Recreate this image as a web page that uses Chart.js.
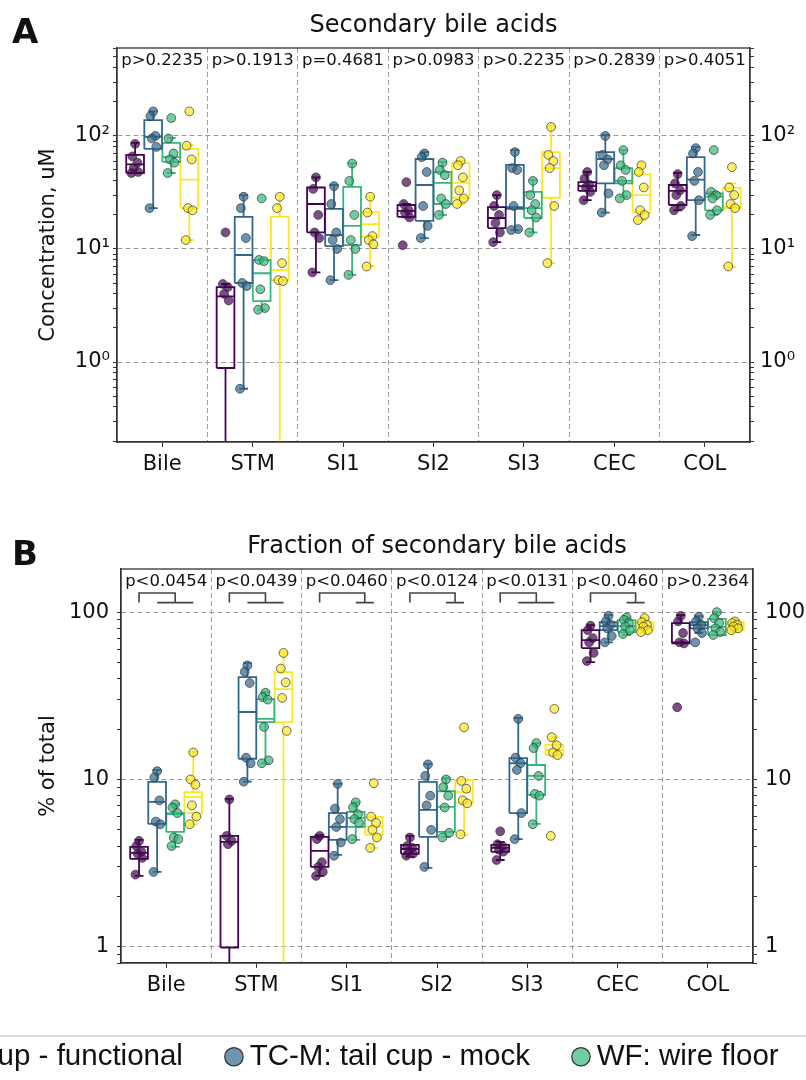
<!DOCTYPE html>
<html lang="en">
<head>
<meta charset="UTF-8">
<title>Secondary bile acids</title>
<style>
  html, body { margin: 0; padding: 0; background: #fff; overflow: hidden; }
  body { width: 806px; height: 1080px; position: relative; }
  .panel { position: absolute; }
  #boxA { left: 0; top: 0; width: 806px; height: 490px; }
  #boxB { left: 0; top: 490px; width: 806px; height: 521px; }
  #boxL { left: -345px; top: 992px; width: 1600px; height: 300px; }
</style>
</head>
<body>
<div class="panel" id="boxA"><canvas id="chartA"></canvas></div>
<div class="panel" id="boxB"><canvas id="chartB"></canvas></div>
<div class="panel" id="boxL"><canvas id="chartL"></canvas></div>

<script src="https://cdn.jsdelivr.net/npm/chart.js"></script>
<script>
const categories = ['Bile', 'STM', 'SI1', 'SI2', 'SI3', 'CEC', 'COL'];
const groups = ['TC-F: tail cup - functional', 'TC-M: tail cup - mock', 'WF: wire floor', 'BC: bedded cage'];

const pConc = ['p>0.2235', 'p>0.1913', 'p=0.4681', 'p>0.0983', 'p>0.2235', 'p>0.2839', 'p>0.4051'];
const pFrac = ['p<0.0454', 'p<0.0439', 'p<0.0460', 'p<0.0124', 'p<0.0131', 'p<0.0460', 'p>0.2364'];
// bracket under each p value: group 1 against groups a..b (null = none)
const fracBrackets = [[2, 4], [2, 4], [3, 4], [3, 4], [2, 4], [3, 4], null];

// box stats per category: [lower whisker, q1, median, q3, upper whisker]
// A: concentration, uM
const concTCF = [[47, 47, 56, 68, 87], [0.05, 0.885, 3.8, 4.6, 4.9], [6.2, 14, 25, 35, 43], [19, 19.2, 21.7, 24.5, 25],
                 [11.5, 15.3, 18.8, 23.5, 30], [27, 32.6, 36, 39, 48], [22, 24.5, 32.6, 36.8, 47]];
const concTCM = [[23, 77, 98, 138, 165], [0.58, 5.0, 8.85, 19.2, 30], [5.3, 10.6, 13.3, 22.6, 36.8], [12.5, 17.7, 36.8, 62.5, 72],
                 [14.7, 22.6, 23.5, 55.4, 75], [21, 38, 62.5, 72, 102], [13.3, 27, 41, 65, 80]];
const concWF  = [[47, 59, 65, 87, 96], [2.9, 3.46, 6.1, 7.96, 8.1], [5.9, 10.8, 16, 35.4, 57.6], [20, 25, 38.4, 48, 59],
                 [14, 18.8, 23, 32, 40.8], [29, 38, 40, 52, 75], [20, 22, 29, 31, 32]];
const concBC  = [[12, 23, 41, 77, 83], [0.05, 5.3, 6.5, 19.2, 30], [7.07, 12.8, 16.6, 21.2, 28.9], [25, 28.4, 38.4, 57.6, 60],
                 [7.5, 28.4, 52, 72, 123], [18, 21, 30, 46, 57.6], [6.9, 23, 23.6, 34.7, 38]];

const concTCFPts = [[85, 66, 58, 52, 48, 47], [14, 4.9, 4.6, 4.0, 3.5, 0.05], [43, 34, 20, 14, 12.5, 6.2], [39, 25, 22, 21, 19, 10.8],
                    [30, 24, 20, 17, 14, 11.5], [48, 42, 37, 35, 32, 27], [46, 38, 33, 30, 24, 22]];
const concTCMPts = [[165, 150, 100, 95, 80, 23], [29, 23, 12.5, 5.0, 4.7, 0.58], [36, 25, 14, 12, 10, 5.3], [70, 65, 48, 24, 16, 12.5],
                    [72, 52, 50, 24, 15, 14.7], [100, 68, 62, 55, 31, 21], [78, 70, 48, 40, 27, 13]];
const concWFPts  = [[144, 95, 70, 62, 58, 47], [28, 8.0, 7.8, 4.4, 3.0, 2.9], [57, 40, 20, 12, 10, 5.9], [58, 50, 45, 28, 25, 20],
                    [40, 30, 25, 22, 19, 14], [75, 55, 50, 40, 30, 28], [75, 32, 30, 28, 22, 20]];
const concBCPts  = [[165, 82, 62, 23, 22, 12], [29, 23, 7.5, 5.3, 5.2, 0.05], [29, 21, 13, 12, 11, 7], [60, 55, 43, 33, 28, 25],
                    [120, 68, 60, 52, 24, 7.5], [55, 48, 35, 22, 20, 18], [53, 35, 30, 25, 23, 7]];

// B: % of total
const fracTCF = [[2.65, 3.35, 3.64, 3.95, 4.35], [0.3, 0.99, 4.24, 4.6, 7.65], [2.65, 3.0, 3.74, 4.54, 4.65], [3.45, 3.59, 3.84, 4.06, 4.6],
                 [3.3, 3.69, 3.9, 4.06, 4.24], [50.3, 61, 68, 78, 83.6], [65, 65, 66, 86, 96]];
const fracTCM = [[2.8, 5.42, 7.34, 9.67, 11.4], [9.7, 13.3, 25.3, 40.9, 49.6], [3.54, 4.35, 5.2, 6.3, 9.4], [2.96, 4.54, 6.58, 9.67, 12.4],
                 [4.4, 6.3, 12.5, 13.4, 23.3], [66, 78, 82.5, 87, 96], [75, 80, 83.6, 87, 94.7]];
const fracWF  = [[3.95, 4.86, 6.2, 6.3, 7.1], [12.5, 22, 23, 30.2, 33.3], [4.35, 5.2, 5.9, 6.4, 7.3], [4.54, 4.86, 6.85, 8.5, 10.2],
                 [5.42, 8.08, 10.5, 12.2, 16.5], [73, 76, 82.5, 89.6, 93], [73, 73, 81.6, 91, 100]];
const fracBC  = [[5.4, 6.3, 7.87, 8.4, 14.6], [0.3, 22, 34.7, 43.8, 57.7], [3.9, 4.67, 5.2, 5.97, 6.0], [4.67, 7.24, 8.4, 9.9, 10],
                 [14, 14, 15, 16.1, 17.9], [75, 78, 81.6, 87, 93], [76, 78, 83.6, 87, 90]];

const fracTCFPts = [[4.3, 4.0, 3.7, 3.6, 3.4, 2.7], [7.6, 4.6, 4.3, 4.1, 0.5, 0.3], [4.6, 4.4, 3.2, 3.0, 2.8, 2.65], [4.5, 4.0, 3.9, 3.7, 3.6, 3.5],
                    [4.9, 4.1, 4.0, 3.8, 3.7, 3.3], [83, 78, 70, 66, 57, 51], [95, 88, 75, 66, 65, 27]];
const fracTCMPts = [[11.2, 10.3, 7.5, 5.6, 5.4, 2.8], [48, 44, 37.7, 13.5, 12.5, 9.7], [9.4, 6.7, 5.8, 5.2, 4.2, 3.5], [12.3, 10.5, 8.0, 7.0, 5.0, 3.0],
                    [23, 13.5, 12.5, 11.4, 6.3, 4.4], [95, 88, 84, 80, 72, 66], [94, 88, 84, 80, 75, 66]];
const fracWFPts  = [[7.1, 6.8, 6.3, 4.5, 4.4, 4.0], [33, 31, 30, 20.6, 13, 12.5], [7.3, 6.8, 6.2, 5.8, 5.5, 4.4], [10, 9.0, 8.0, 6.8, 4.8, 4.5],
                    [16.5, 15.4, 10.5, 8.2, 8.0, 5.4], [93, 90, 86, 82, 78, 74], [100, 92, 86, 80, 76, 73]];
const fracBCPts  = [[14.5, 10, 9.3, 7.0, 6.0, 5.4], [57, 46, 38, 30.7, 19.5, 0.3], [9.5, 6.0, 5.5, 5.0, 4.5, 3.9], [20.5, 9.8, 8.8, 7.5, 7.2, 4.7],
                    [26.4, 17.9, 16, 14.5, 14, 4.6], [92, 87, 84, 82, 78, 76], [88, 86, 84, 82, 80, 78]];

Chart.defaults.font.family = "'DejaVu Sans', sans-serif";
Chart.defaults.color = '#111';

const colors = ['#440154', '#31688e', '#35b779', '#fde725'];
const dotFill = ['rgba(68,1,84,0.7)', 'rgba(49,104,142,0.7)', 'rgba(53,183,121,0.7)', 'rgba(253,231,37,0.7)'];
const dodge = [-0.3, -0.1, 0.1, 0.3];
const half = 0.098, capHalf = 0.049;
const jitter = [0, -0.03, 0.025, -0.015, 0.035, -0.04];

function groupSets(stats, points) {
    const dots = [], lines = [];
    stats.forEach((grp, g) => {
        const box = [], pts = [];
        grp.forEach((s, i) => {
            const x = i + dodge[g];
            const [lo, q1, md, q3, hi] = s;
            box.push(
                {x: x - half, y: q1}, {x: x + half, y: q1}, {x: x + half, y: q3}, {x: x - half, y: q3}, {x: x - half, y: q1}, {x, y: null},
                {x: x - half, y: md}, {x: x + half, y: md}, {x, y: null},
                {x, y: q3}, {x, y: hi}, {x, y: null}, {x: x - capHalf, y: hi}, {x: x + capHalf, y: hi}, {x, y: null},
                {x, y: q1}, {x, y: lo}, {x, y: null}, {x: x - capHalf, y: lo}, {x: x + capHalf, y: lo}, {x, y: null}
            );
            points[g][i].forEach((v, k) => pts.push({x: x + jitter[k % jitter.length], y: v}));
        });
        dots.push({label: groups[g], data: pts, pointRadius: 4.4, backgroundColor: dotFill[g],
                   borderColor: 'rgba(50,50,50,0.7)', borderWidth: 1, order: 0});
        lines.push({label: groups[g] + ' box', data: box, showLine: true, pointRadius: 0,
                    borderColor: colors[g], borderWidth: 1.8, order: 1});
    });
    return dots.concat(lines);
}

function bracketSet(brackets) {
    const data = [];
    brackets.forEach((b, i) => {
        if (!b) return;
        const x1 = i + dodge[0], xa = i + dodge[b[0] - 1], xb = i + dodge[b[1] - 1], xm = (xa + xb) / 2;
        data.push({x: x1, y: 114}, {x: x1, y: 130}, {x: xm, y: 130}, {x: xm, y: 114}, {x: x1, y: null},
                  {x: xa, y: 114}, {x: xb, y: 114}, {x: xa, y: null});
    });
    return {label: 'brackets', data, showLine: true, pointRadius: 0, borderColor: '#444', borderWidth: 1.6, order: 2};
}

function logTicks(min, max) {
    const t = [];
    for (let e = -2; e <= 3; e++) {
        for (let m = 1; m <= 9; m++) {
            const v = m * Math.pow(10, e);
            if (v >= min && v <= max) t.push({value: v, major: m === 1});
        }
    }
    return t;
}

const xTicks = [];
for (let v = 0; v <= 6; v += 0.5) xTicks.push({value: v});

function panelDecor(letter, title, pvals, titleBase, letterBase) {
    return {
        id: 'panelDecor',
        afterDraw(chart) {
            const {ctx, chartArea: a, scales} = chart;
            ctx.save();
            ctx.strokeStyle = '#333';
            ctx.lineWidth = 1.3;
            ctx.strokeRect(a.left, a.top, a.right - a.left, a.bottom - a.top);
            ctx.fillStyle = '#111';
            ctx.textBaseline = 'alphabetic';
            ctx.textAlign = 'center';
            ctx.font = '24px "DejaVu Sans"';
            ctx.fillText(title, (a.left + a.right) / 2, titleBase);
            ctx.font = '16.5px "DejaVu Sans"';
            pvals.forEach((p, i) => ctx.fillText(p, scales.x.getPixelForValue(i), a.top + 17));
            ctx.textAlign = 'left';
            ctx.font = 'bold 34px "DejaVu Sans"';
            ctx.fillText(letter, 12, letterBase);
            ctx.restore();
        }
    };
}

function makePanel(id, cfg) {
    const tickMark = c => '#333';
    return new Chart(document.getElementById(id), {
        type: 'scatter',
        data: {datasets: cfg.datasets},
        options: {
            responsive: true,
            maintainAspectRatio: false,
            animation: false,
            events: [],
            layout: {padding: {left: 30, top: cfg.top, right: 0, bottom: 0}},
            plugins: {legend: {display: false}, tooltip: {enabled: false}},
            scales: {
                x: {
                    type: 'linear', min: -0.5, max: 6.5,
                    afterBuildTicks: s => { s.ticks = xTicks.map(t => ({value: t.value})); },
                    afterFit: s => { s.height = 48; },
                    ticks: {autoSkip: false, maxRotation: 0, padding: 5, font: {size: 21},
                            callback: v => Number.isInteger(v) ? categories[v] : ''},
                    grid: {color: c => c.tick && !Number.isInteger(c.tick.value) ? '#9c9c9c' : 'transparent',
                           tickColor: c => c.tick && Number.isInteger(c.tick.value) ? '#333' : 'transparent',
                           tickLength: 5, lineWidth: 1},
                    border: {color: '#333', width: 1.3, dash: [5, 3]}
                },
                y: {
                    type: 'logarithmic', position: 'left', min: cfg.min, max: cfg.max,
                    afterBuildTicks: s => { s.ticks = logTicks(cfg.min, cfg.max); },
                    afterFit: s => { s.width = cfg.leftW; },
                    ticks: {autoSkip: false, padding: cfg.tickPad, font: {size: 21},
                            callback: (v, i, t) => t[i].major ? cfg.label(v) : ''},
                    grid: {color: c => c.tick && c.tick.major ? '#9c9c9c' : 'transparent', tickColor: tickMark, tickLength: 4},
                    border: {color: '#333', width: 1.3, dash: [5, 3]},
                    title: {display: true, text: cfg.yTitle, font: {size: 21}, padding: {top: 6, bottom: 0}}
                },
                y2: {
                    type: 'logarithmic', position: 'right', min: cfg.min, max: cfg.max,
                    afterBuildTicks: s => { s.ticks = logTicks(cfg.min, cfg.max); },
                    afterFit: s => { s.width = cfg.rightW; },
                    ticks: {autoSkip: false, padding: cfg.tickPad2, font: {size: 21},
                            callback: (v, i, t) => t[i].major ? cfg.label(v) : ''},
                    grid: {drawOnChartArea: false, tickColor: tickMark, tickLength: 4},
                    border: {color: '#333', width: 1.3}
                }
            }
        },
        plugins: [panelDecor(cfg.letter, cfg.title, cfg.pvals, cfg.titleBase, cfg.letterBase)]
    });
}

const sup = {1: '10\u2070', 10: '10\u00b9', 100: '10\u00b2'};

makePanel('chartA', {
    datasets: groupSets([concTCF, concTCM, concWF, concBC], [concTCFPts, concTCMPts, concWFPts, concBCPts]),
    top: 48, min: 0.196, max: 600, leftW: 87, rightW: 56, tickPad: 3, tickPad2: 6,
    label: v => sup[Math.round(v)] || '',
    yTitle: 'Concentration, uM', letter: 'A', title: 'Secondary bile acids', pvals: pConc,
    titleBase: 32, letterBase: 43
});

makePanel('chartB', {
    datasets: [bracketSet(fracBrackets)].concat(
        groupSets([fracTCF, fracTCM, fracWF, fracBC], [fracTCFPts, fracTCMPts, fracWFPts, fracBCPts])),
    top: 79, min: 0.8, max: 181, leftW: 91, rightW: 53, tickPad: 8, tickPad2: 8,
    label: v => String(Math.round(v)),
    yTitle: '% of total', letter: 'B', title: 'Fraction of secondary bile acids', pvals: pFrac,
    titleBase: 63, letterBase: 75
});

// legend row, wider than the page as in the figure
const legendFrame = {
    id: 'legendFrame',
    afterDraw(chart) {
        const boxes = chart.legend.legendHitBoxes;
        if (!boxes.length) return;
        const first = boxes[0], last = boxes[boxes.length - 1];
        const ctx = chart.ctx;
        ctx.save();
        ctx.strokeStyle = '#cfcfcf';
        ctx.lineWidth = 1.5;
        ctx.strokeRect(first.left - 20, first.top - 6, last.left + last.width - first.left + 40, first.height + 40);
        ctx.restore();
    }
};

new Chart(document.getElementById('chartL'), {
    type: 'scatter',
    data: {datasets: groups.map((g, i) => ({label: g, data: [], backgroundColor: dotFill[i],
                                              borderColor: '#333', borderWidth: 1.2, pointStyle: 'circle'}))},
    options: {
        responsive: true,
        maintainAspectRatio: false,
        animation: false,
        events: [],
        scales: {x: {display: false}, y: {display: false}},
        plugins: {
            tooltip: {enabled: false},
            legend: {display: true, position: 'top',
                     labels: {usePointStyle: true, boxWidth: 2, boxHeight: 13, padding: 50, color: '#111',
                              font: {family: "'Liberation Sans', sans-serif", size: 29.5}}}
        }
    },
    plugins: [legendFrame]
});
</script>
</body>
</html>
